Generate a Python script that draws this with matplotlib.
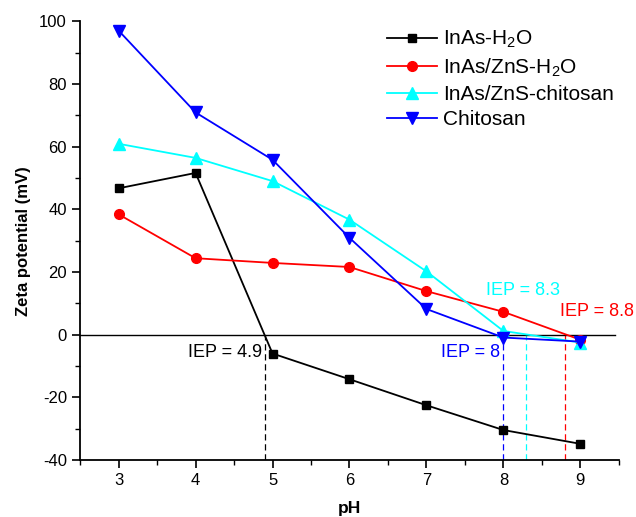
import matplotlib
matplotlib.use("Agg")
import matplotlib.pyplot as plt
from matplotlib.ticker import MultipleLocator

plt.rcParams['font.family'] = ['Liberation Sans', 'DejaVu Sans']
plt.rcParams['mathtext.fontset'] = 'custom'
plt.rcParams['mathtext.rm'] = 'Liberation Sans'
plt.rcParams['mathtext.it'] = 'Liberation Sans:italic'
plt.rcParams['mathtext.bf'] = 'Liberation Sans:bold'
plt.rcParams['axes.unicode_minus'] = False

ph = [3, 4, 5, 6, 7, 8, 9]
inas_h2o = [46.7, 51.6, -6.0, -14.2, -22.5, -30.4, -34.8]
inas_zns_h2o = [38.4, 24.4, 22.9, 21.6, 13.9, 7.3, -1.6]
inas_zns_chitosan = [60.9, 56.4, 49.0, 36.7, 20.2, 1.2, -2.5]
chitosan = [97.0, 70.9, 55.8, 30.9, 8.2, -0.9, -2.2]

labels = ['InAs-H$_2$O', 'InAs/ZnS-H$_2$O', 'InAs/ZnS-chitosan', 'Chitosan']
colors = ['black', '#ff0000', '#00ffff', '#0000ff']
markers = ['s', 'o', '^', 'v']
msizes = [6, 7, 8, 8]

iep_values = [4.9, 8.0, 8.3, 8.8]
iep_colors = ['black', '#0000ff', '#00ffff', '#ff0000']
iep_text = ['IEP = 4.9', 'IEP = 8', 'IEP = 8.3', 'IEP = 8.8']

fig = plt.figure(figsize=(6.36, 5.17), dpi=100)
ax = fig.add_axes([0.126, 0.110, 0.847, 0.849])

for ys, lab, c, m, ms in zip([inas_h2o, inas_zns_h2o, inas_zns_chitosan, chitosan],
                             labels, colors, markers, msizes):
    ax.plot(ph, ys, color=c, marker=m, markersize=ms, lw=1.3, label=lab, zorder=3)

ax.axhline(0, color='black', lw=1.0, xmin=0, xmax=0.993, zorder=2)

for x, c in zip(iep_values, iep_colors):
    ax.plot([x, x], [-40, 0], color=c, lw=0.9, ls=(0, (5, 3)), zorder=1)

ax.text(4.86, -5.6, iep_text[0], color='black', ha='right', va='center', fontsize=13)
ax.text(7.96, -5.6, iep_text[1], color='#0000ff', ha='right', va='center', fontsize=13)
ax.text(8.26, 14.2, iep_text[2], color='#00ffff', ha='center', va='center', fontsize=13)
ax.text(9.22, 7.3, iep_text[3], color='#ff0000', ha='center', va='center', fontsize=13)

ax.set_xlim(2.5, 9.5)
ax.set_ylim(-40, 100)
ax.xaxis.set_major_locator(MultipleLocator(1))
ax.xaxis.set_minor_locator(MultipleLocator(0.5))
ax.yaxis.set_major_locator(MultipleLocator(20))
ax.yaxis.set_minor_locator(MultipleLocator(10))
ax.tick_params(which='major', direction='out', length=6, width=1.2, labelsize=12)
ax.tick_params(which='minor', direction='out', length=3.5, width=1.0)
for s in ['top', 'right']:
    ax.spines[s].set_visible(False)
for s in ['left', 'bottom']:
    ax.spines[s].set_linewidth(1.3)

ax.set_xlabel('pH', fontsize=12.5, fontweight='bold', labelpad=9)
ax.set_ylabel('Zeta potential (mV)', fontsize=12, fontweight='bold', labelpad=6)

fig.legend(loc='upper left', bbox_to_anchor=(0.579, 0.98), frameon=False,
           fontsize=15, handlelength=2.4, handletextpad=0.3, labelspacing=0.3)

fig.savefig('out.png', dpi=100)
